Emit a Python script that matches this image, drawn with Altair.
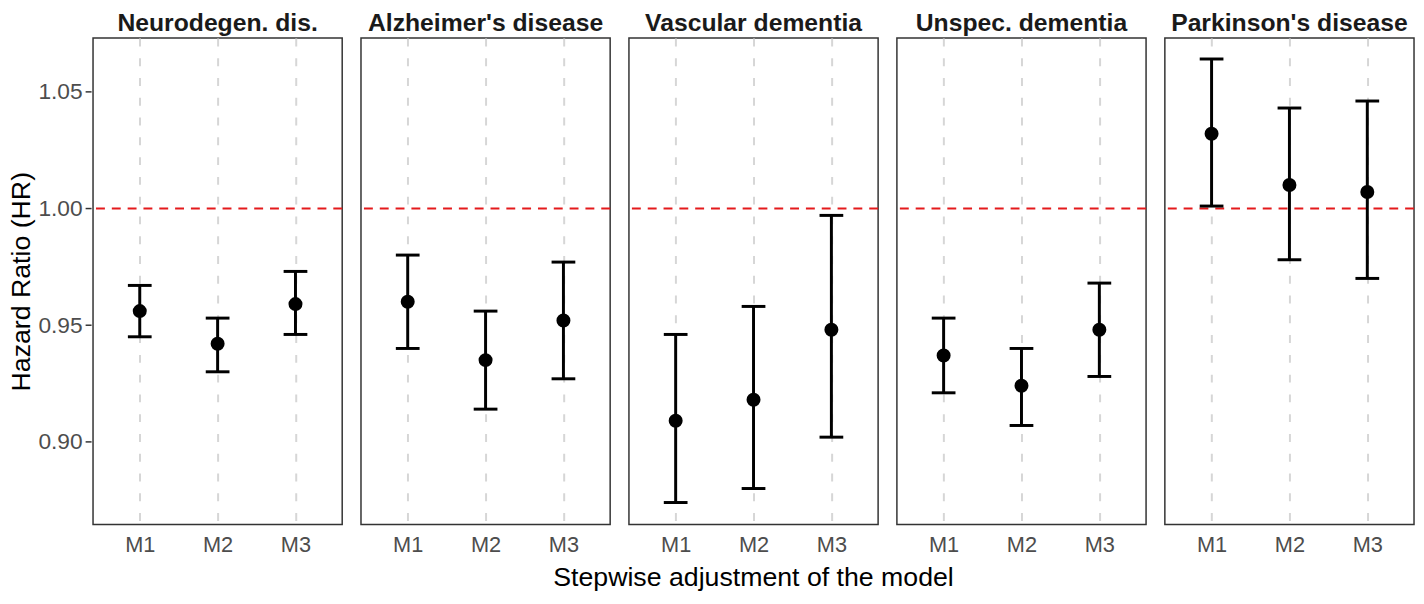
import altair as alt
import pandas as pd

diseases = ["Neurodegen. dis.", "Alzheimer's disease", "Vascular dementia",
            "Unspec. dementia", "Parkinson's disease"]
models = ["M1", "M2", "M3"]

hr = [0.956, 0.942, 0.959,
      0.960, 0.935, 0.952,
      0.909, 0.918, 0.948,
      0.937, 0.924, 0.948,
      1.032, 1.010, 1.007]
lower = [0.945, 0.930, 0.946,
         0.940, 0.914, 0.927,
         0.874, 0.880, 0.902,
         0.921, 0.907, 0.928,
         1.001, 0.978, 0.970]
upper = [0.967, 0.953, 0.973,
         0.980, 0.956, 0.977,
         0.946, 0.958, 0.997,
         0.953, 0.940, 0.968,
         1.064, 1.043, 1.046]
y_ticks = [0.90, 0.95, 1.00, 1.05]
ref_value = 1.0

rows = []
i = 0
for d in diseases:
    for m in models:
        rows.append({"disease": d, "model": m, "hr": hr[i], "lower": lower[i], "upper": upper[i]})
        i += 1
df = pd.DataFrame(rows)

FONT = "Liberation Sans"
YTITLE = "Hazard Ratio (HR)"
yscale = alt.Scale(domain=[0.8646, 1.073], nice=False, zero=False)

xenc = alt.X("model:N", sort=models,
             scale=alt.Scale(type="point", padding=0.6),
             axis=alt.Axis(title=None))

ref = alt.Chart().mark_rule(color="#e41a1c", strokeDash=[9, 7], strokeWidth=2).encode(
    y=alt.datum(ref_value, scale=yscale)
).transform_filter(alt.datum.model == "M1")

bars = alt.Chart().mark_rule(color="black", strokeWidth=3).encode(
    x=xenc,
    y=alt.Y("lower:Q", scale=yscale, title=YTITLE,
            axis=alt.Axis(values=y_ticks, format=".2f")),
    y2="upper:Q",
)
cap_lo = alt.Chart().mark_tick(color="black", size=24, thickness=3, orient="horizontal", opacity=1).encode(
    x=xenc, y=alt.Y("lower:Q", scale=yscale, title=YTITLE)
)
cap_hi = alt.Chart().mark_tick(color="black", size=24, thickness=3, orient="horizontal", opacity=1).encode(
    x=xenc, y=alt.Y("upper:Q", scale=yscale, title=YTITLE)
)
pts = alt.Chart().mark_point(filled=True, color="black", size=200, opacity=1).encode(
    x=xenc, y=alt.Y("hr:Q", scale=yscale, title=YTITLE)
)

layered = alt.layer(ref, bars, cap_lo, cap_hi, pts, data=df).properties(width=252, height=492)

chart = layered.facet(
    column=alt.Column("disease:N", sort=diseases,
                      header=alt.Header(title="Stepwise adjustment of the model",
                                        titleOrient="bottom", labelOrient="top",
                                        titleFont=FONT, titleFontSize=27, titleColor="black",
                                        titleFontWeight="normal", titlePadding=0,
                                        labelFont=FONT, labelFontSize=25,
                                        labelFontWeight="bold", labelColor="#1a1a1a",
                                        labelPadding=1)),
    spacing=15,
).properties(
    padding={"left": 0, "top": 0, "right": 0, "bottom": 0}
).configure_axis(
    labelFont=FONT, labelColor="#4d4d4d",
    titleFont=FONT, titleFontSize=27, titleColor="black", titleFontWeight="normal",
).configure_axisX(
    grid=True, gridDash=[8, 12], gridColor="#d6d6d6", gridWidth=2, labelFontSize=22,
    ticks=False, domain=False, labelPadding=9, labelAngle=0,
).configure_axisY(
    grid=False, domain=False, tickColor="#333333", tickSize=6, tickWidth=1.5,
    labelFontSize=23, labelPadding=3, titlePadding=2,
).configure_view(
    stroke="#333333", strokeWidth=1.5
)

chart.save("out.html", embed_options={"renderer": "svg", "actions": False})
